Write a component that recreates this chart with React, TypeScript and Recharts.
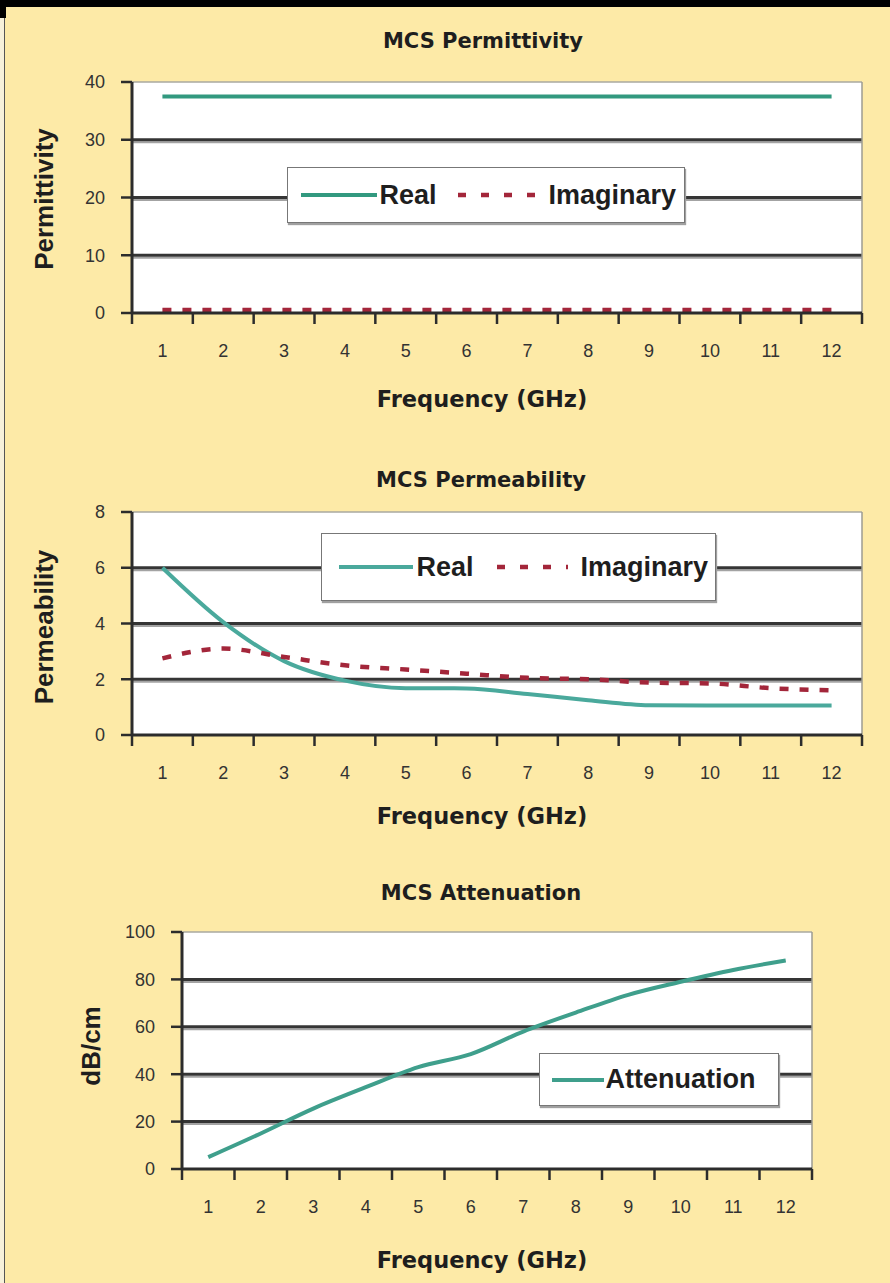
import {
  LineChart,
  Line,
  XAxis,
  YAxis,
  CartesianGrid,
  ReferenceLine,
  Legend,
} from "recharts";

const frequencies = [1, 2, 3, 4, 5, 6, 7, 8, 9, 10, 11, 12];

// values
const permittivityReal = [37.5, 37.5, 37.5, 37.5, 37.5, 37.5, 37.5, 37.5, 37.5, 37.5, 37.5, 37.5];
const permittivityImaginary = [0.5, 0.5, 0.5, 0.5, 0.5, 0.5, 0.5, 0.5, 0.5, 0.5, 0.5, 0.5];

const permeabilityReal = [6.0, 4.05, 2.65, 1.95, 1.68, 1.67, 1.47, 1.25, 1.07, 1.06, 1.06, 1.06];
const permeabilityImaginary = [2.75, 3.1, 2.8, 2.5, 2.35, 2.2, 2.05, 2.0, 1.88, 1.85, 1.68, 1.6];

const attenuation = [5, 15, 25.5, 34.5, 43, 48.5, 58, 66, 73.5, 79, 84, 88];

const permittivityTicks = [0, 10, 20, 30, 40];
const permeabilityTicks = [0, 2, 4, 6, 8];
const attenuationTicks = [0, 20, 40, 60, 80, 100];

const permittivityData = frequencies.map((f, i) => ({
  freq: f,
  real: permittivityReal[i],
  imaginary: permittivityImaginary[i],
}));
const permeabilityData = frequencies.map((f, i) => ({
  freq: f,
  real: permeabilityReal[i],
  imaginary: permeabilityImaginary[i],
}));
const attenuationData = frequencies.map((f, i) => ({
  freq: f,
  attenuation: attenuation[i],
}));

const PAGE_W = 890;
const PAGE_H = 1283;
const Y_W = 50;
const X_H = 50;
const BG = "#fdeaa7";
const INK = "#2c2c2c";
const RED = "#a3263a";
const HEAD = "'DejaVu Sans', sans-serif";
const SANS = "'Liberation Sans', Arial, sans-serif";

type Plot = { left: number; right: number; top: number; bottom: number };
type SeriesDef = {
  key: string;
  name: string;
  stroke: string;
  width: number;
  dash?: string;
  legendDash?: string;
  sampleW: number;
  textGap: number;
  curve: "linear" | "monotone";
};
type LegendDef = { left: number; top: number; w: number; h: number; pad: number; gap: number };

function XTick(props: any) {
  const { x, y, payload, band } = props;
  const half = band / 2;
  const last = payload.value === frequencies[frequencies.length - 1];
  return (
    <g>
      <line x1={x - half} x2={x - half} y1={y} y2={y + 11} stroke={INK} strokeWidth={2.5} />
      {last && <line x1={x + half} x2={x + half} y1={y} y2={y + 11} stroke={INK} strokeWidth={2.5} />}
      <text
        x={x}
        y={y + 44}
        textAnchor="middle"
        fill="#333"
        fontSize={18}
        fontFamily={SANS}
      >
        {payload.value}
      </text>
    </g>
  );
}

function LegendBox(props: any) {
  const { payload, series, box } = props;
  // keep the series order (the default legend sorts by name)
  const entries = series
    .map((s: SeriesDef) => ({ s, entry: (payload ?? []).find((e: any) => e.dataKey === s.key) }))
    .filter((d: any) => d.entry);
  return (
    <div
      style={{
        width: box.w,
        height: box.h,
        boxSizing: "border-box",
        background: "#fff",
        border: "1.5px solid #777",
        boxShadow: "1px 2px 1px #a0a0a0",
        display: "flex",
        alignItems: "center",
        paddingLeft: box.pad,
      }}
    >
      {entries.map(({ s, entry }: any, i: number) => (
        <div
          key={s.key}
          style={{ display: "flex", alignItems: "center", marginLeft: i ? box.gap : 0 }}
        >
          <svg width={s.sampleW} height={10} style={{ display: "block" }}>
            <line
              x1={0}
              x2={s.sampleW}
              y1={5}
              y2={5}
              stroke={s.stroke}
              strokeWidth={s.width}
              strokeDasharray={s.legendDash}
            />
          </svg>
          <span
            style={{
              marginLeft: s.textGap,
              fontFamily: SANS,
              fontWeight: 700,
              fontSize: 27,
              lineHeight: 1,
              color: "#1e1e1e",
            }}
          >
            {entry.value}
          </span>
        </div>
      ))}
    </div>
  );
}

function Panel(props: {
  top: number;
  height: number;
  plot: Plot;
  data: any[];
  series: SeriesDef[];
  ticks: number[];
  legend: LegendDef;
}) {
  const { top, height, plot, data, series, ticks, legend } = props;
  const band = (plot.right - plot.left) / frequencies.length;
  const localTop = plot.top - top;
  const localBottom = plot.bottom - top;
  const yMax = ticks[ticks.length - 1];

  const gridLine = (p: any) => {
    const { x1, x2, y1 } = p;
    if (Math.abs(y1 - localTop) < 1 || Math.abs(y1 - localBottom) < 1) return <g />;
    return (
      <g>
        <line x1={x1} x2={x2} y1={y1 + 2.5} y2={y1 + 2.5} stroke="#a3a3a3" strokeWidth={2} />
        <line x1={x1} x2={x2} y1={y1} y2={y1} stroke="#353535" strokeWidth={3} />
      </g>
    );
  };

  return (
    <div style={{ position: "absolute", left: 0, top }}>
      <LineChart
        width={PAGE_W}
        height={height}
        data={data}
        margin={{
          top: localTop,
          bottom: height - localBottom - X_H,
          left: plot.left - Y_W,
          right: PAGE_W - plot.right,
        }}
      >
        <CartesianGrid fill="#ffffff" vertical={false} horizontal={gridLine} />
        <ReferenceLine y={yMax} stroke="#a9a8a0" strokeWidth={1.5} />
        <ReferenceLine x={12.5} stroke="#9c9b92" strokeWidth={1.5} />
        <XAxis
          dataKey="freq"
          type="number"
          domain={[0.5, 12.5]}
          ticks={frequencies}
          interval={0}
          height={X_H}
          tickSize={0}
          tickMargin={0}
          tickLine={false}
          axisLine={{ stroke: INK, strokeWidth: 3 }}
          tick={(p: any) => <XTick {...p} band={band} />}
        />
        <YAxis
          type="number"
          domain={[0, yMax]}
          ticks={ticks}
          interval={0}
          width={Y_W}
          tickSize={11}
          tickMargin={16}
          axisLine={{ stroke: INK, strokeWidth: 3 }}
          tickLine={{ stroke: INK, strokeWidth: 2.5 }}
          tick={{ fill: "#333", fontSize: 18, fontFamily: SANS }}
        />
        <Legend
          layout="horizontal"
          verticalAlign="middle"
          align="center"
          wrapperStyle={{ left: legend.left, top: legend.top - top, width: legend.w, height: legend.h }}
          content={(lp: any) => <LegendBox {...lp} series={series} box={legend} />}
        />
        {series.map((s) => (
          <Line
            key={s.key}
            dataKey={s.key}
            name={s.name}
            type={s.curve}
            stroke={s.stroke}
            strokeWidth={s.width}
            strokeDasharray={s.dash}
            dot={false}
            activeDot={false}
            isAnimationActive={false}
          />
        ))}
      </LineChart>
    </div>
  );
}

function Text(props: {
  x: number;
  y: number;
  size: number;
  family?: string;
  rotate?: boolean;
  children: string;
}) {
  const { x, y, size, family = HEAD, rotate, children } = props;
  return (
    <div
      style={{
        position: "absolute",
        left: x,
        top: y,
        transform: `translate(-50%, -50%)${rotate ? " rotate(-90deg)" : ""}`,
        whiteSpace: "nowrap",
        fontFamily: family,
        fontWeight: 700,
        fontSize: size,
        lineHeight: 1,
        color: "#1e1e1e",
      }}
    >
      {children}
    </div>
  );
}

export default function App() {
  const realImag = (green: string, sampleW: [number, number], gaps: [number, number]): SeriesDef[] => [
    { key: "real", name: "Real", stroke: green, width: 4, sampleW: sampleW[0], textGap: gaps[0], curve: "monotone" },
    {
      key: "imaginary",
      name: "Imaginary",
      stroke: RED,
      width: 4.5,
      dash: "9 11",
      legendDash: "8 15",
      sampleW: sampleW[1],
      textGap: gaps[1],
      curve: "monotone",
    },
  ];

  return (
    <div
      style={{
        position: "absolute",
        left: 0,
        top: 0,
        width: PAGE_W,
        height: PAGE_H,
        background: BG,
        overflow: "hidden",
      }}
    >
      <div style={{ position: "absolute", left: 0, top: 0, width: PAGE_W, height: 7, background: "#000" }} />
      <div style={{ position: "absolute", left: 0, top: 7, width: 6, height: 11, background: "#000" }} />
      <div
        style={{
          position: "absolute",
          left: 0,
          top: 18,
          width: 4,
          height: PAGE_H - 18,
          background: "#f7f1da",
          borderRight: "1.5px solid #555",
        }}
      />

      <Panel
        top={0}
        height={430}
        plot={{ left: 132, right: 862, top: 82, bottom: 313 }}
        data={permittivityData}
        series={realImag("#32997f", [76, 79], [3, 12])}
        ticks={permittivityTicks}
        legend={{ left: 287, top: 167, w: 398, h: 56, pad: 12.5, gap: 21 }}
      />
      <Panel
        top={430}
        height={430}
        plot={{ left: 132, right: 862, top: 512, bottom: 735 }}
        data={permeabilityData}
        series={realImag("#4aa99c", [74, 71], [4, 13])}
        ticks={permeabilityTicks}
        legend={{ left: 321, top: 533, w: 395, h: 68, pad: 16.5, gap: 23 }}
      />
      <Panel
        top={860}
        height={423}
        plot={{ left: 182, right: 812, top: 932, bottom: 1169 }}
        data={attenuationData}
        series={[
          {
            key: "attenuation",
            name: "Attenuation",
            stroke: "#3f9f8c",
            width: 4,
            sampleW: 52,
            textGap: 2,
            curve: "monotone",
          },
        ]}
        ticks={attenuationTicks}
        legend={{ left: 539, top: 1053, w: 240, h: 53, pad: 11.5, gap: 0 }}
      />

      <Text x={483} y={41} size={21}>MCS Permittivity</Text>
      <Text x={482} y={399} size={22.5}>Frequency (GHz)</Text>
      <Text x={44} y={199} size={26} family={SANS} rotate>Permittivity</Text>

      <Text x={481} y={480} size={21}>MCS Permeability</Text>
      <Text x={482} y={816} size={22.5}>Frequency (GHz)</Text>
      <Text x={44} y={627} size={26} family={SANS} rotate>Permeability</Text>

      <Text x={481} y={893} size={21}>MCS Attenuation</Text>
      <Text x={482} y={1260} size={22.5}>Frequency (GHz)</Text>
      <Text x={91} y={1046} size={26} family={SANS} rotate>dB/cm</Text>
    </div>
  );
}
